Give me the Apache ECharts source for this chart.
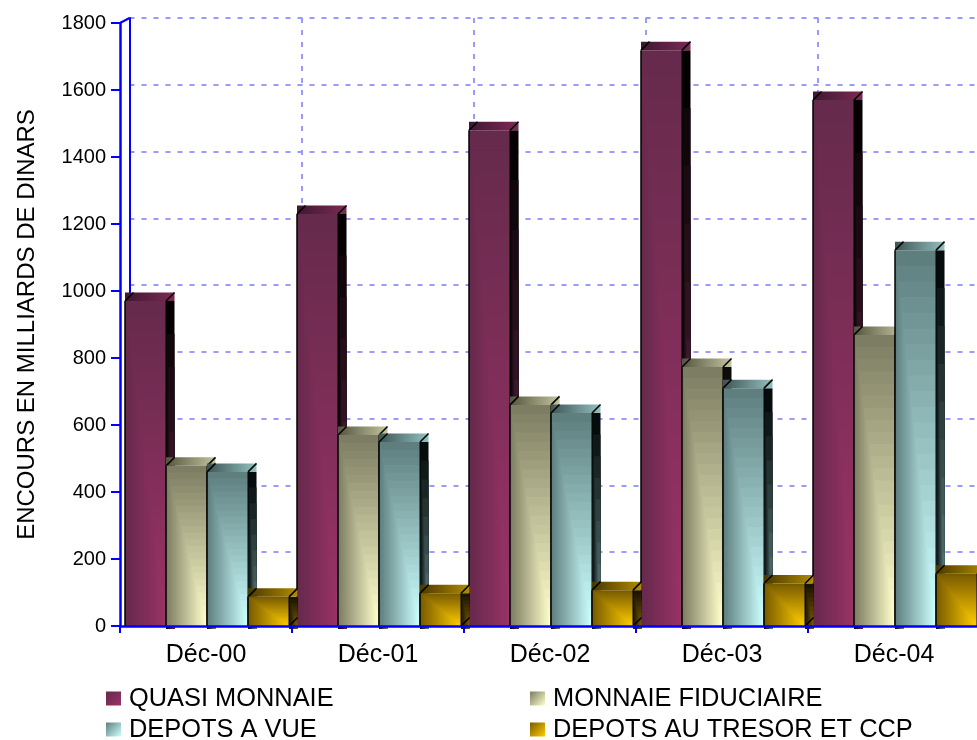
<!DOCTYPE html>
<html><head><meta charset="utf-8">
<style>html,body{margin:0;padding:0;background:#fff}#c{width:977px;height:740px}</style>
<script src="https://cdn.jsdelivr.net/npm/echarts@6/dist/echarts.min.js"></script>
</head><body><div id="c"></div>
<script>
const categories = ['Déc-00','Déc-01','Déc-02','Déc-03','Déc-04'];
const yTicks = [0,200,400,600,800,1000,1200,1400,1600,1800];
const quasiMonnaie = [970,1230,1480,1719,1570];
const monnaieFiduciaire = [478,570,660,773,869];
const depotsAVue = [460,549,636,710,1122];
const depotsTresor = [87,98,107,127,156];
const seriesNames = ['QUASI MONNAIE','MONNAIE FIDUCIAIRE','DEPOTS A VUE','DEPOTS AU TRESOR ET CCP'];

const FONT = '"Liberation Sans", Arial, sans-serif';
const BLUE = '#0000ff', GRIDC = '#9999ff';
const DEPTH = 8.5, BANDS = 24, SIDE_BANDS = 10;
const palette = [
  {d:'#662a4c', b:'#993366', s0:'#050103', t0:'#3e1830', t1:'#7c2a54'},
  {d:'#7d7d63', b:'#ffffcc', s0:'#0c0c08', t0:'#55553f', t1:'#c4c4a0'},
  {d:'#5f7f7f', b:'#ccffff', s0:'#060c0c', t0:'#3e5555', t1:'#93c0c0'},
  {d:'#7a5c00', b:'#ffcc00', s0:'#1c1500', t0:'#4a3800', t1:'#b08c00'}
];
const lin = (x,y,x2,y2,a,b)=>({type:'linear',x,y,x2,y2,colorStops:[{offset:0,color:a},{offset:1,color:b}]});

function bands(x,y,w,h,n,a,b){
  const out=[];
  for(let i=0;i<n;i++){
    const t=i/n;
    out.push({type:'rect',
      shape:{x:x+w*t,y:y+h*t,width:w*(1-t),height:h*(1-t)},
      style:{fill:echarts.color.lerp(t/(1-1/n),[a,b])}});
  }
  return out;
}
function bar3d(idx){
  const p = palette[idx];
  return function(params, api){
    const cat = api.value(0), val = api.value(1);
    const band = api.size([1,0])[0];
    const left = api.coord([cat,0])[0] - band/2;
    const y0 = api.coord([cat,0])[1];
    const y = api.coord([cat,val])[1];
    const step = band*0.2384, off = band*0.0291;
    const x = left + off + step*idx, w = step, d = DEPTH;
    const line = {stroke:'#000', lineWidth:1.5};
    const kids = bands(x+w,y,d,y0+3-y,SIDE_BANDS,p.s0,p.d).concat([
      {type:'line', shape:{x1:x+w,y1:y0,x2:x+w+d,y2:y0-d}, style:Object.assign({},line)},
      {type:'rect', shape:{x:x,y:y-d,width:w+d,height:d}, style:{fill:lin(0,0,1,0,p.t0,p.t1)}},
      {type:'line', shape:{x1:x,y1:y,x2:x+d,y2:y-d}, style:Object.assign({},line)},
      {type:'line', shape:{x1:x+w,y1:y,x2:x+w+d,y2:y-d}, style:Object.assign({},line)}
    ]).concat(bands(x,y,w,y0-y,BANDS,p.d,p.b));
    kids.push({type:'line', shape:{x1:x,y1:y,x2:x,y2:y0}, style:Object.assign({},line)});
    kids.push({type:'line', shape:{x1:x+w,y1:y,x2:x+w,y2:y0}, style:{stroke:'#000',lineWidth:1}});
    return {type:'group', children:kids};
  };
}
const mk = (i,data)=>({
  type:'custom', name:seriesNames[i], xAxisIndex:0, yAxisIndex:0, z:3, clip:false,
  encode:{x:0,y:1}, data:data.map((v,k)=>[k,v]),
  renderItem:bar3d(i),
  itemStyle:{color:lin(0,0,1,1,palette[i].d,palette[i].b)}
});
const legendText = {fontFamily:FONT,fontSize:25.4,color:'#000',padding:[0,0,0,3]};
const yAxisMax = yTicks[yTicks.length-1];
const option = {
  animation:false, backgroundColor:'#fff',
  grid:[
    {left:120,top:23,width:860,height:603,outerBoundsMode:'none'},
    {left:129.5,top:18,width:860,height:601,outerBoundsMode:'none'}
  ],
  legend:[
    {orient:'vertical',left:106,top:686,height:80,itemWidth:15,itemHeight:14,itemGap:6,textStyle:legendText,icon:'rect',
     data:[seriesNames[0],seriesNames[2]],selectedMode:false,padding:0},
    {orient:'vertical',left:530,top:686,height:80,itemWidth:15,itemHeight:14,itemGap:6,textStyle:legendText,icon:'rect',
     data:[seriesNames[1],seriesNames[3]],selectedMode:false,padding:0}
  ],
  xAxis:[
    {type:'category',gridIndex:0,data:categories,boundaryGap:true,z:6,
     axisLine:{show:true,lineStyle:{color:BLUE,width:2.5}},
     axisTick:{show:true,alignWithLabel:false,length:7,lineStyle:{color:BLUE,width:2}},
     axisLabel:{fontFamily:FONT,fontSize:25,color:'#000',margin:17},splitLine:{show:false}},
    {type:'category',gridIndex:1,data:categories,boundaryGap:true,
     axisLine:{show:false},axisTick:{show:false},axisLabel:{show:false},
     splitLine:{show:true,interval:0,lineStyle:{color:GRIDC,width:2,type:[5,7]}}}
  ],
  yAxis:[
    {type:'value',gridIndex:0,min:0,max:yAxisMax,interval:200,z:6,
     name:'ENCOURS EN MILLIARDS DE DINARS',nameLocation:'middle',nameGap:81,nameRotate:90,
     nameTextStyle:{fontFamily:FONT,fontSize:24,color:'#000'},
     axisLine:{show:true,lineStyle:{color:BLUE,width:2.5}},
     axisTick:{show:true,length:9,lineStyle:{color:BLUE,width:2}},
     axisLabel:{fontFamily:FONT,fontSize:20,color:'#000',margin:14,formatter:v=>String(v)},splitLine:{show:false}},
    {type:'value',gridIndex:1,min:0,max:yAxisMax,interval:200,
     axisLine:{show:true,lineStyle:{color:BLUE,width:2}},axisTick:{show:false},axisLabel:{show:false},
     splitLine:{show:true,lineStyle:{color:GRIDC,width:2,type:[5,7]}}}
  ],
  series:[mk(0,quasiMonnaie),mk(1,monnaieFiduciaire),mk(2,depotsAVue),mk(3,depotsTresor),
    {type:'custom',xAxisIndex:0,yAxisIndex:0,z:2,silent:true,clip:false,data:[[0,yAxisMax]],encode:{x:0,y:1},
     renderItem:function(p,api){
       const c=api.coord([0,api.value(1)]), b=api.size([1,0])[0];
       const x=c[0]-b/2;
       return {type:'line',shape:{x1:x,y1:c[1],x2:x+DEPTH+1,y2:c[1]-5},style:{stroke:BLUE,lineWidth:2}};
     }}
  ]
};
echarts.init(document.getElementById('c'),null,{renderer:'canvas'}).setOption(option);
</script></body></html>
